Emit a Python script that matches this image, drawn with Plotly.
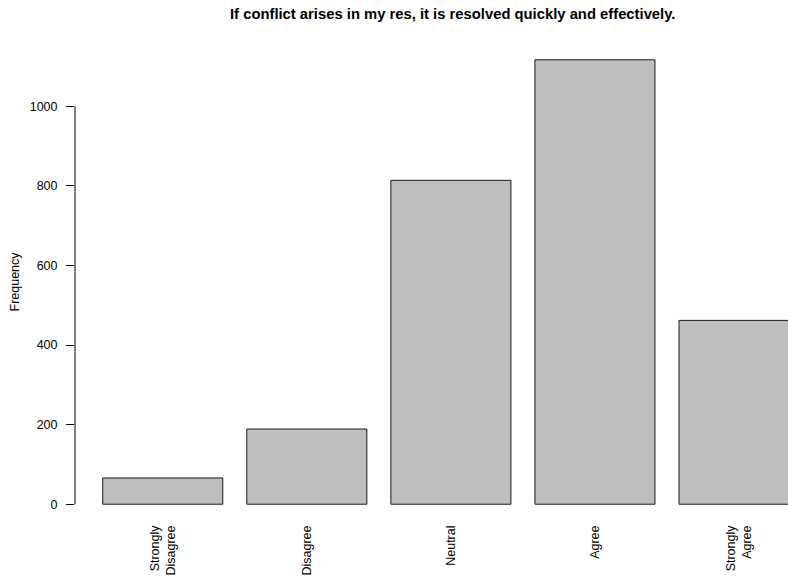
import plotly.graph_objects as go

categories = ["Strongly<br>Disagree", "Disagree", "Neutral", "Agree", "Strongly<br>Agree"]
counts = [66, 189, 814, 1117, 462]
y_ticks = [0, 200, 400, 600, 800, 1000]
title_text = "If conflict arises in my res, it is resolved quickly and effectively."
y_label = "Frequency"

FONT = "Liberation Sans, Arial, Helvetica, sans-serif"
W, H = 788, 580
PLOT_LEFT = 75
PLOT_TOP, PLOT_BOTTOM = 42, 522
PLOT_H = PLOT_BOTTOM - PLOT_TOP
PLOT_W = W - PLOT_LEFT

fig = go.Figure(
    go.Bar(
        x=categories,
        y=counts,
        marker=dict(color="#BEBEBE", line=dict(color="#1a1a1a", width=1)),
        hoverinfo="skip",
    )
)

fig.update_layout(
    width=W,
    height=H,
    margin=dict(l=PLOT_LEFT, r=0, t=PLOT_TOP, b=H - PLOT_BOTTOM, pad=0),
    paper_bgcolor="white",
    plot_bgcolor="white",
    bargap=1 - 1 / 1.2,
    showlegend=False,
    font=dict(family=FONT, size=12.5, color="black"),
    annotations=[
        dict(
            text="<b>" + title_text + "</b>",
            xref="paper", yref="paper",
            x=(452 - PLOT_LEFT) / PLOT_W, y=1 + (PLOT_TOP - 14) / PLOT_H,
            xanchor="center", yanchor="middle",
            showarrow=False,
            font=dict(family=FONT, size=14.8, color="black"),
        ),
        dict(
            text=y_label,
            xref="paper", yref="paper",
            x=(14.5 - PLOT_LEFT) / PLOT_W, y=0.5,
            xanchor="center", yanchor="middle",
            textangle=-90,
            showarrow=False,
            font=dict(family=FONT, size=12.5, color="black"),
        ),
    ],
    shapes=[
        dict(
            type="line", xref="paper", yref="y",
            x0=0, x1=0, y0=y_ticks[0], y1=y_ticks[-1],
            line=dict(color="black", width=1),
        )
    ],
)

fig.update_xaxes(
    range=[-0.609, 4.340],
    showgrid=False,
    zeroline=False,
    showline=False,
    ticks="",
    tickangle=-90,
    tickfont=dict(family=FONT, size=12.5, color="black"),
)

fig.update_yaxes(
    range=[-44.7, 1161.7],
    tickvals=y_ticks,
    ticktext=[str(v) for v in y_ticks],
    showgrid=False,
    zeroline=False,
    showline=False,
    ticks="outside",
    ticklen=8,
    tickwidth=1,
    tickcolor="black",
    ticklabelstandoff=6,
    tickfont=dict(family=FONT, size=12.5, color="black"),
)

fig.write_html(
    "out.html",
    config={"displayModeBar": False},
    post_script="document.body.style.margin='0';document.body.style.overflow='hidden';",
)
